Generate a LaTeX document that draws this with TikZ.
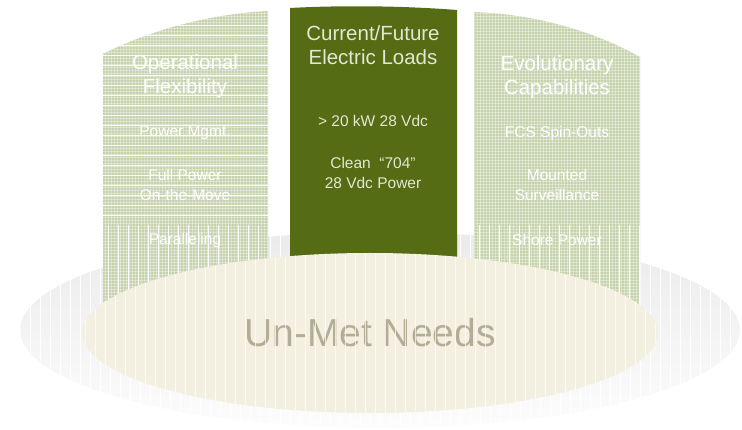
\documentclass[tikz,border=0pt]{standalone}
\usepackage{fontspec}
\setmainfont{Liberation Sans}
\usetikzlibrary{positioning, patterns}
\definecolor{loadgreen}{HTML}{556B14}
\definecolor{sidegreen}{HTML}{C6D2AC}
\definecolor{needsbeige}{HTML}{F4F0E1}
\definecolor{needstext}{HTML}{B3AD96}
\definecolor{loadtext}{HTML}{E2E8D2}
\tikzstyle{sidetitle} = [text=white, font=\fontsize{20.5}{24}\selectfont, align=center, inner sep=0pt]
\tikzstyle{sideitem} = [text=white, font=\fontsize{15.5}{20}\selectfont, align=center, inner sep=0pt]
\tikzstyle{loadtitle} = [text=loadtext, font=\fontsize{20.5}{24}\selectfont, align=center, inner sep=0pt]
\tikzstyle{loaditem} = [text=loadtext, font=\fontsize{15.5}{19.5}\selectfont, align=center, inner sep=0pt]
\tikzstyle{stripe} = [white, line width=1pt]
\begin{document}
\begin{tikzpicture}[x=1pt, y=-1pt]
	\useasboundingbox (0,0) rectangle (742,430);
	% outer ellipse
	\shade[top color=black!8, bottom color=black!1] (380,330) ellipse (360 and 98);
	\begin{scope}
		\clip (380,330) ellipse (360 and 98);
		\foreach \x in {20,30,...,740}
			\draw[stripe, line width=.9pt] (\x,220) -- (\x,430);
	\end{scope}
	% left column
	\path[fill=sidegreen] (103,54) .. controls (150,30) and (210,14) .. (268,11) -- (268,305) -- (103,305) -- cycle;
	\path[pattern=grid, pattern color=white, opacity=.35] (103,54) .. controls (150,30) and (210,14) .. (268,11) -- (268,305) -- (103,305) -- cycle;
	\begin{scope}
		\clip (103,54) .. controls (150,30) and (210,14) .. (268,11) -- (268,305) -- (103,305) -- cycle;
		\foreach \y in {25,35,...,215}
			\draw[stripe, line width=.8pt] (100,\y) -- (270,\y);
		\foreach \x in {108,118,...,268}
			\draw[stripe] (\x,225) -- (\x,305);
	\end{scope}
	% right column
	\path[fill=sidegreen] (474,12) .. controls (532,14) and (592,30) .. (640,57) -- (640,305) -- (474,305) -- cycle;
	\path[pattern=grid, pattern color=white, opacity=.35] (474,12) .. controls (532,14) and (592,30) .. (640,57) -- (640,305) -- (474,305) -- cycle;
	\begin{scope}
		\clip (474,12) .. controls (532,14) and (592,30) .. (640,57) -- (640,305) -- (474,305) -- cycle;
		\foreach \x in {479,489,...,640}
			\draw[stripe] (\x,225) -- (\x,305);
	\end{scope}
	% center column
	\path[fill=loadgreen] (290,8) .. controls (345,5) and (405,6) .. (457,10) -- (457,270) -- (290,270) -- cycle;
	% inner ellipse
	\path[fill=needsbeige] (370,333) ellipse (288 and 80);
	\node[font=\fontsize{39}{44}\selectfont, text=needstext, inner sep=0pt] (needs) at (370,333) {Un-Met Needs};
	\begin{scope}
		\clip (370,333) ellipse (288 and 80);
		\foreach \x in {85,95,...,655}
			\draw[stripe, line width=.9pt, opacity=.7] (\x,250) -- (\x,415);
	\end{scope}
	% texts
	\node[sidetitle] (opflex) at (185,76) {Operational\\Flexibility};
	\node[sideitem] (pwrmgmt) at (185,133) {Power Mgmt.};
	\node[sideitem] (fullpwr) at (185,185) {Full Power\\On-the-Move};
	\node[sideitem] (parallel) at (185,240) {Paralleling};
	\node[loadtitle] (loads) at (373,45) {Current/Future\\Electric Loads};
	\node[loaditem] (kw) at (373,121) {> 20 kW 28 Vdc};
	\node[loaditem] (clean) at (373,173) {Clean~~“704”\\28 Vdc Power};
	\node[sidetitle] (evocap) at (557,77) {Evolutionary\\Capabilities};
	\node[sideitem] (fcs) at (557,133) {FCS Spin-Outs};
	\node[sideitem] (mounted) at (557,185) {Mounted\\Surveillance};
	\node[sideitem] (shore) at (557,240) {Shore Power};
\end{tikzpicture}
\end{document}
